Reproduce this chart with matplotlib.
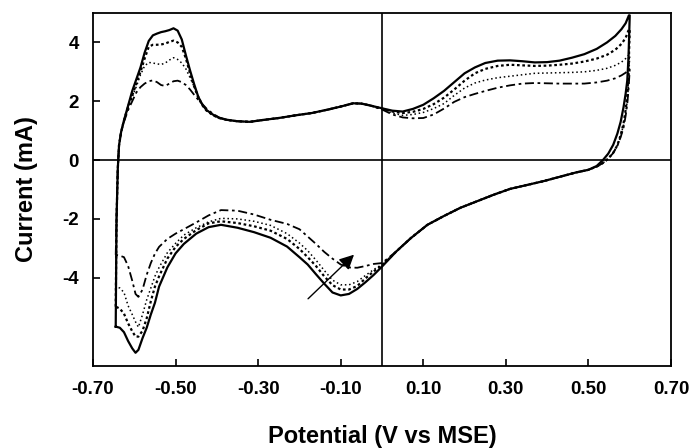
import numpy as np
import matplotlib
matplotlib.use("Agg")
import matplotlib.pyplot as plt

plt.rcParams['font.family'] = ['Liberation Sans', 'DejaVu Sans']
plt.rcParams['font.weight'] = 'bold'

# Anodic sweep (-0.645 V -> 0.60 V), shared potentials
x_anodic = [-0.645, -0.643, -0.640, -0.637, -0.632, -0.625, -0.615, -0.605, -0.595, -0.585,
            -0.575, -0.565, -0.555, -0.545, -0.535, -0.525, -0.515, -0.505, -0.495, -0.485,
            -0.475, -0.465, -0.455, -0.445, -0.435, -0.425, -0.41, -0.395, -0.375, -0.35,
            -0.32, -0.29, -0.25, -0.21, -0.17, -0.13, -0.10, -0.07, -0.05, -0.03,
            0.0, 0.025, 0.05, 0.075, 0.10, 0.125, 0.15, 0.175, 0.20, 0.225,
            0.25, 0.28, 0.31, 0.34, 0.37, 0.40, 0.43, 0.46, 0.49, 0.52,
            0.545, 0.565, 0.58, 0.59, 0.598]

mid_anodic = [1.30, 1.36, 1.43, 1.52, 1.60, 1.72, 1.82, 1.93, 1.92, 1.86]

ia_solid = ([-5.66, -2.0, -0.3, 0.5, 0.95, 1.35, 1.85, 2.35, 2.75, 3.15,
             3.65, 4.05, 4.24, 4.30, 4.35, 4.38, 4.42, 4.48, 4.40, 4.10,
             3.56, 3.05, 2.58, 2.15, 1.88, 1.70, 1.55, 1.44, 1.37, 1.32]
            + mid_anodic +
            [1.76, 1.68, 1.65, 1.74, 1.88, 2.10, 2.35, 2.65, 2.95, 3.15,
             3.30, 3.38, 3.39, 3.36, 3.32, 3.33, 3.38, 3.48, 3.60, 3.78,
             4.00, 4.22, 4.45, 4.65, 4.92])

ia_dot = ([-4.98, -2.0, -0.3, 0.5, 0.95, 1.35, 1.82, 2.20, 2.60, 3.00,
           3.45, 3.85, 3.92, 3.92, 3.93, 3.96, 4.02, 4.06, 4.00, 3.85,
           3.45, 2.95, 2.50, 2.12, 1.86, 1.68, 1.53, 1.43, 1.36, 1.32]
          + mid_anodic +
          [1.75, 1.65, 1.60, 1.64, 1.74, 1.90, 2.12, 2.40, 2.70, 2.95,
           3.10, 3.20, 3.24, 3.22, 3.20, 3.21, 3.24, 3.28, 3.35, 3.45,
           3.58, 3.75, 3.95, 4.15, 4.45])

ia_light = ([-4.30, -2.0, -0.3, 0.5, 0.95, 1.33, 1.78, 2.15, 2.50, 2.90,
             3.20, 3.32, 3.30, 3.27, 3.25, 3.30, 3.40, 3.48, 3.42, 3.30,
             3.10, 2.80, 2.50, 2.18, 1.90, 1.70, 1.53, 1.43, 1.36, 1.32]
            + mid_anodic +
            [1.73, 1.60, 1.52, 1.55, 1.62, 1.75, 1.92, 2.20, 2.45, 2.62,
             2.72, 2.80, 2.85, 2.90, 2.95, 2.96, 2.97, 2.98, 3.00, 3.05,
             3.12, 3.22, 3.33, 3.45, 3.58])

ia_dashdot = ([-3.22, -2.0, -0.3, 0.5, 0.95, 1.30, 1.70, 2.00, 2.30, 2.48,
               2.60, 2.68, 2.71, 2.65, 2.55, 2.52, 2.60, 2.68, 2.70, 2.65,
               2.55, 2.40, 2.22, 2.05, 1.90, 1.75, 1.58, 1.45, 1.36, 1.32]
              + mid_anodic +
              [1.72, 1.55, 1.45, 1.42, 1.43, 1.55, 1.75, 1.98, 2.14, 2.25,
               2.35, 2.46, 2.54, 2.60, 2.62, 2.61, 2.60, 2.60, 2.60, 2.64,
               2.70, 2.78, 2.88, 2.97, 3.08])

# Cathodic sweep (0.60 V -> -0.645 V), shared potentials
x_cathodic = [0.60, 0.597, 0.594, 0.59, 0.585, 0.578, 0.57, 0.56, 0.548, 0.535,
              0.52, 0.50, 0.47, 0.43, 0.39, 0.35, 0.31, 0.27, 0.23, 0.19,
              0.15, 0.11, 0.07, 0.035, 0.0, -0.02, -0.04, -0.06, -0.08, -0.10,
              -0.12, -0.14, -0.16, -0.18, -0.20, -0.23, -0.27, -0.31, -0.35, -0.39,
              -0.42, -0.45, -0.48, -0.50, -0.52, -0.54, -0.55, -0.56, -0.57, -0.58,
              -0.59, -0.597, -0.605, -0.615, -0.625, -0.635, -0.645]

mid_cathodic = [-0.42, -0.57, -0.72, -0.85, -0.98, -1.18, -1.40, -1.62,
                -1.90, -2.20, -2.65, -3.10]

ic_solid = ([4.92, 3.5, 2.7, 2.25, 1.8, 1.3, 0.9, 0.52, 0.22, 0.0, -0.2, -0.33]
            + mid_cathodic +
            [-3.62, -3.90, -4.15, -4.38, -4.55, -4.60,
             -4.50, -4.20, -3.88, -3.55, -3.30, -2.94, -2.64, -2.45, -2.30, -2.20,
             -2.28, -2.50, -2.85, -3.17, -3.65, -4.30, -4.85, -5.25, -5.70, -6.05,
             -6.45, -6.55, -6.40, -6.15, -5.85, -5.70, -5.66])

ic_dot = ([4.45, 3.0, 2.2, 1.7, 1.25, 0.85, 0.5, 0.25, 0.05, -0.1, -0.22, -0.33]
          + mid_cathodic +
          [-3.58, -3.78, -4.02, -4.28, -4.40, -4.40,
           -4.25, -3.95, -3.60, -3.30, -3.02, -2.68, -2.40, -2.25, -2.14, -2.08,
           -2.15, -2.38, -2.68, -2.95, -3.35, -3.95, -4.30, -4.80, -5.38, -5.80,
           -6.00, -6.00, -5.82, -5.55, -5.22, -5.05, -4.98])

ic_light = ([3.58, 2.6, 2.0, 1.6, 1.2, 0.82, 0.5, 0.25, 0.05, -0.1, -0.22, -0.33]
            + mid_cathodic +
            [-3.55, -3.72, -3.92, -4.13, -4.24, -4.24,
             -4.08, -3.75, -3.40, -3.08, -2.82, -2.50, -2.22, -2.08, -2.00, -1.98,
             -2.10, -2.30, -2.55, -2.83, -3.15, -3.65, -3.95, -4.35, -4.75, -5.25,
             -5.68, -5.50, -5.25, -4.95, -4.50, -4.35, -4.30])

ic_dashdot = ([3.08, 2.4, 1.9, 1.5, 1.1, 0.78, 0.48, 0.24, 0.05, -0.1, -0.22, -0.33]
              + mid_cathodic +
              [-3.50, -3.53, -3.60, -3.66, -3.65, -3.55,
               -3.35, -3.12, -2.85, -2.60, -2.35, -2.17, -2.03, -1.85, -1.72, -1.70,
               -1.88, -2.12, -2.35, -2.50, -2.68, -2.95, -3.18, -3.50, -3.90, -4.40,
               -4.65, -4.55, -4.10, -3.60, -3.30, -3.25, -3.22])

x_ticks = [-0.70, -0.50, -0.30, -0.10, 0.10, 0.30, 0.50, 0.70]
x_ticklabels = ['-0.70', '-0.50', '-0.30', '-0.10', '0.10', '0.30', '0.50', '0.70']
y_ticks = [-4, -2, 0, 2, 4]
y_ticklabels = ['-4', '-2', '0', '2', '4']

# arrow: tail / head (V, mA)
arrow_tail = (-0.184, -4.78)
arrow_head = (-0.063, -3.15)

fig = plt.figure(figsize=(6.91, 4.48), dpi=100)
ax = fig.add_axes([0.1346, 0.183, 0.8365, 0.788])

styles = [
    (ia_solid, ic_solid, dict(linestyle='-', lw=1.6)),
    (ia_dot, ic_dot, dict(linestyle=(0, (1.2, 1.2)), lw=1.6)),
    (ia_light, ic_light, dict(linestyle=(0, (1, 1.8)), lw=1.1)),
    (ia_dashdot, ic_dashdot, dict(linestyle=(0, (5, 2, 1.5, 2)), lw=1.3)),
]
for ia, ic, st in styles:
    xs = list(x_anodic) + list(x_cathodic)
    ys = list(ia) + list(ic)
    ax.plot(xs, ys, color='black', **st)

ax.axhline(0, color='black', lw=1.2)
ax.axvline(0, color='black', lw=1.2)

ax.annotate('', xy=arrow_head, xytext=arrow_tail,
            arrowprops=dict(arrowstyle='-|>', mutation_scale=22, lw=1.0, color='black'))

ax.set_xlim(-0.70, 0.70)
ax.set_ylim(-7, 5)
ax.set_xticks(x_ticks)
ax.set_xticklabels(x_ticklabels, fontsize=13.5, fontweight='bold')
ax.set_yticks(y_ticks)
ax.set_yticklabels(y_ticklabels, fontsize=13.5, fontweight='bold')
ax.tick_params(direction='in', length=5, width=1.2, pad=11)
ax.tick_params(axis='y', pad=10)
for s in ax.spines.values():
    s.set_linewidth(1.3)

ax.set_xlabel('Potential (V vs MSE)', fontsize=17, fontweight='bold')
ax.set_ylabel('Current (mA)', fontsize=17, fontweight='bold')
ax.xaxis.set_label_coords(0.5, -0.166)
ax.yaxis.set_label_coords(-0.095, 0.5)

fig.savefig('out.png', dpi=100)
